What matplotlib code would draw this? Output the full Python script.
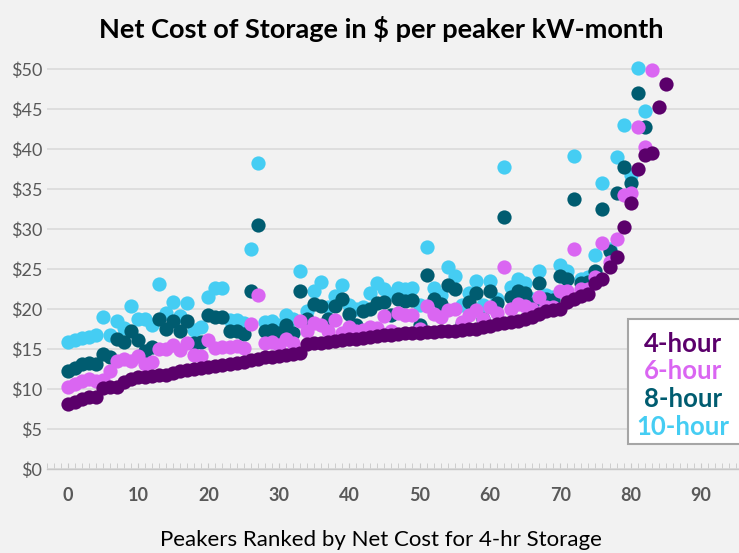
import numpy as np
import matplotlib.pyplot as plt
from matplotlib.patches import Rectangle

# Net cost values ($ per peaker kW-month), peakers ranked by the 4-hour cost
cost_4hr = [8.1, 8.4, 8.7, 9.0, 9.0, 10.1, 10.2, 10.3, 10.9, 11.2,
            11.5, 11.5, 11.6, 11.7, 11.8, 12.0, 12.3, 12.4, 12.5, 12.6,
            12.7, 12.9, 13.0, 13.1, 13.2, 13.4, 13.6, 13.8, 14.0, 14.0,
            14.1, 14.25, 14.4, 14.5, 15.6, 15.7, 15.8, 15.9, 16.0, 16.1,
            16.2, 16.3, 16.4, 16.5, 16.6, 16.7, 16.8, 16.9, 16.95, 17.0,
            17.05, 17.1, 17.15, 17.2, 17.25, 17.3, 17.35, 17.45, 17.5, 17.7,
            17.9, 18.1, 18.3, 18.4, 18.5, 18.7, 19.0, 19.4, 19.7, 19.9,
            20.0, 20.9, 21.2, 21.6, 21.9, 23.2, 23.8, 25.2, 26.5, 30.3,
            33.3, 37.5, 39.2, 39.5, 45.2, 48.1]

cost_6hr = [10.2, 10.6, 11.0, 11.2, 11.0, 11.1, 12.2, 13.5, 13.7, 13.5,
            14.1, 13.1, 13.4, 15.0, 15.0, 15.5, 14.9, 15.7, 14.3, 14.1,
            16.1, 15.1, 15.3, 15.3, 15.4, 15.1, 18.1, 21.75, 15.8, 15.9,
            15.5, 16.3, 15.8, 18.5, 17.2, 18.3, 18.0, 17.3, 18.6, 17.0,
            17.8, 17.2, 17.4, 17.7, 17.6, 19.1, 17.2, 19.5, 19.25, 19.3,
            17.5, 20.4, 19.4, 19.0, 19.9, 20.0, 18.4, 19.25, 19.9, 18.8,
            20.2, 19.5, 25.3, 20.0, 20.6, 20.4, 20.0, 21.5, 20.3, 20.3,
            22.2, 22.3, 27.5, 22.5, 22.5, 24.0, 28.3, 25.9, 28.75, 34.25,
            34.5, 42.8, 40.2, 49.9]

cost_8hr = [12.2, 12.6, 13.1, 13.2, 13.1, 14.4, 14.0, 16.3, 15.9, 17.2,
            16.1, 14.8, 15.2, 18.7, 17.5, 18.5, 17.2, 18.5, 15.7, 15.9,
            19.25, 19.0, 19.0, 17.3, 17.2, 16.9, 22.25, 30.5, 17.3, 17.4,
            17.0, 18.0, 17.0, 22.2, 18.7, 20.6, 20.4, 18.7, 20.4, 21.2,
            19.4, 18.0, 19.8, 20.0, 20.7, 20.9, 19.3, 21.2, 21.0, 21.1,
            18.0, 24.25, 21.2, 20.6, 23.0, 22.5, 18.1, 20.9, 22.0, 18.8,
            22.2, 20.7, 31.5, 21.5, 22.3, 22.0, 20.6, 23.3, 21.3, 21.1,
            24.1, 23.7, 33.8, 23.2, 23.4, 24.7, 32.5, 27.2, 34.5, 37.7,
            35.7, 47.0, 42.7]

cost_10hr = [15.9, 16.1, 16.4, 16.5, 16.75, 19.0, 16.75, 18.5, 17.6, 20.4,
             18.7, 18.7, 18.0, 23.1, 19.5, 20.9, 19.1, 20.7, 17.4, 17.7,
             21.5, 22.6, 22.6, 18.6, 18.6, 18.2, 27.5, 38.3, 18.4, 18.5,
             18.0, 19.25, 18.7, 24.8, 19.8, 22.2, 23.4, 20.3, 21.6, 23.0,
             20.5, 20.0, 20.3, 22.0, 23.2, 22.5, 21.9, 22.6, 22.5, 22.6,
             20.5, 27.8, 22.6, 21.75, 25.3, 24.1, 20.5, 22.0, 23.5, 20.5,
             23.5, 21.3, 37.7, 22.8, 23.7, 23.3, 21.2, 24.8, 21.75, 21.5,
             25.5, 24.7, 39.1, 23.8, 24.0, 26.75, 35.8, 27.5, 39.0, 43.0,
             36.75, 50.1, 44.7]

labels = ['4-hour', '6-hour', '8-hour', '10-hour']
colors = ['#5B006B', '#DA66F2', '#005C70', '#45CDF3']
series = [cost_4hr, cost_6hr, cost_8hr, cost_10hr]

y_ticks = np.arange(0, 55, 5)
x_ticks = np.arange(0, 100, 10)

plt.rcParams['font.family'] = ['Lato', 'DejaVu Sans']

fig = plt.figure(figsize=(7.39, 5.53), dpi=100, facecolor='#F2F2F2')
ax = fig.add_axes([0.063, 0.152, 0.937, 0.752])
ax.set_facecolor('#F2F2F2')

# longest storage first so the 4-hour dots end up on top
for values, color in reversed(list(zip(series, colors))):
    ax.scatter(np.arange(len(values)), values, s=105, color=color,
               linewidths=0, zorder=3)

ax.set_xlim(-3.0, 95.4)
ax.set_ylim(0, 52)

ax.set_yticks(y_ticks)
ax.set_yticklabels(['\\$%d' % v for v in y_ticks])
ax.set_xticks(x_ticks)
ax.set_xticks(np.arange(-3, 96, 1), minor=True)
ax.grid(axis='y', color='#D9D9D9', linewidth=1.1, zorder=0)
ax.set_axisbelow(True)

for side in ['top', 'right', 'left']:
    ax.spines[side].set_visible(False)
ax.spines['bottom'].set_color('#C8C8C8')
ax.spines['bottom'].set_linewidth(1.0)

ax.tick_params(axis='y', length=0, pad=3, labelsize=13, labelcolor='#595959')
ax.tick_params(axis='x', which='both', direction='in', length=4, color='#C8C8C8',
               pad=13, labelsize=13, labelcolor='#595959')
for lbl in ax.get_xticklabels():
    lbl.set_fontweight('bold')

fig.text(0.5156, 0.948, 'Net Cost of Storage in \\$ per peaker kW-month',
         ha='center', va='center', fontsize=19.5, fontweight='bold', color='black')
fig.text(0.5156, 0.024, 'Peakers Ranked by Net Cost for 4-hr Storage',
         ha='center', va='center', fontsize=16, color='black')

# legend box on the right, text only
box = Rectangle((0.840, 0.060), 0.2, 0.301, transform=ax.transAxes,
                facecolor='white', edgecolor='#A6A6A6', linewidth=1.5,
                zorder=5, clip_on=False)
ax.add_patch(box)
label_y = [0.3005, 0.2356, 0.1683, 0.101]
for text, color, yy in zip(labels, colors, label_y):
    ax.text(0.919, yy, text, transform=ax.transAxes, ha='center', va='center',
            fontsize=18.5, fontweight='bold', color=color, zorder=6)

fig.savefig('out.png', dpi=100, facecolor=fig.get_facecolor())
